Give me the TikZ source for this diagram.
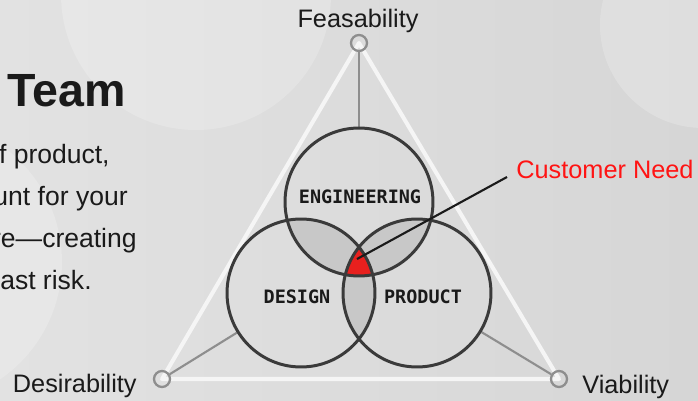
\documentclass[tikz,border=0pt]{standalone}
\usepackage{fontspec}
\setmainfont{Liberation Sans}
\newfontfamily\vennfont{DejaVu Sans Mono}
\usetikzlibrary{positioning,calc,backgrounds}
\definecolor{bgleft}{HTML}{E2E2E2}
\definecolor{bgright}{HTML}{D6D6D6}
\definecolor{ring}{HTML}{3A3A3A}
\definecolor{lens}{HTML}{C8C8C8}
\definecolor{core}{HTML}{E8201E}
\definecolor{needred}{HTML}{FF1414}
\definecolor{spoke}{HTML}{8E8E8E}
\definecolor{rimwhite}{HTML}{F5F5F5}
\definecolor{ink}{HTML}{1A1A1A}
\tikzset{
venn/.style={
    circle,
    draw=ring,
    line width=1.7pt,
    minimum size=2.96cm,
    inner sep=0pt
},
vennlabel/.style={
    inner sep=0pt,
    text=ink,
    font=\vennfont\bfseries\fontsize{10.5}{12}\selectfont
},
corner/.style={
    circle,
    draw=spoke,
    line width=1.3pt,
    minimum size=0.32cm,
    inner sep=0pt
},
cornerlabel/.style={
    inner sep=0pt,
    text=ink,
    font=\fontsize{14.4}{17}\selectfont
},
needlabel/.style={
    cornerlabel,
    text=needred
},
spokeline/.style={
    spoke,line width=1.2pt
},
rim/.style={
    rimwhite,line width=2.3pt,line join=round
},
leader/.style={
    ink,line width=1.2pt
},
blob/.style={
    white,opacity=0.2
},
title/.style={
    inner sep=0pt,
    text=ink,
    font=\fontsize{26.5}{30}\selectfont\bfseries
},
body/.style={
    inner sep=0pt,
    text=ink,
    font=\fontsize{15.1}{18}\selectfont
},
}

\begin{document}
\begin{tikzpicture}[x=0.02cm,y=-0.02cm]

\useasboundingbox (0,0) rectangle (698,400);
%
\node [corner] (feas) at (359,43) {};
\node [corner] (des) at (162,379) {};
\node [corner] (via) at (559,379) {};
\node [cornerlabel,anchor=base] (feaslabel) at (358,27) {Feasability};
\node [cornerlabel,anchor=base east] (deslabel) at (137,392) {Desirability};
\node [cornerlabel,anchor=base west] (vialabel) at (582,393) {Viability};
%
\node [venn] (eng) at (359,202) {};
\node [venn] (dsg) at (301,293) {};
\node [venn] (prd) at (417,293) {};
\node [vennlabel] (englabel) at (360,197) {ENGINEERING};
\node [vennlabel] (dsglabel) at (297,297) {DESIGN};
\node [vennlabel] (prdlabel) at (423,297) {PRODUCT};
%
\coordinate (corept) at (357,259);
\node [needlabel,anchor=base west] (needs) at (516,178) {Customer Need};
\draw [leader] (corept) -- ([xshift=-0.18cm,yshift=0.02cm]needs.base west);
%
\node [title,anchor=base west] (team) at (7,106) {Team};
\node [body,anchor=base east] (line1) at (110,163) {f product,};
\node [body,anchor=base east] (line2) at (128,205) {unt for your};
\node [body,anchor=base east] (line3) at (137,247) {re—creating};
\node [body,anchor=base east] (line4) at (92,289) {ast risk.};
%
\begin{scope}[on background layer]
\clip (0,0) rectangle (698,400);
\shade [left color=bgleft,right color=bgright] (0,0) rectangle (698,400);
\fill [blob] (196,-5) circle [radius=2.7cm];
\fill [blob] (703,25) circle [radius=2.06cm];
\fill [blob] (-80,262) circle [radius=2.84cm];
%
\draw [rim] (feas.center) -- (via.center) -- (des.center) -- cycle;
\draw [spokeline] (feas) -- (eng);
\draw [spokeline] (des) -- (dsg);
\draw [spokeline] (via) -- (prd);
%
\begin{scope}
\clip (eng.center) circle [radius=1.48cm];
\fill [lens] (dsg.center) circle [radius=1.48cm];
\fill [lens] (prd.center) circle [radius=1.48cm];
\end{scope}
\begin{scope}
\clip (dsg.center) circle [radius=1.48cm];
\fill [lens] (prd.center) circle [radius=1.48cm];
\end{scope}
\begin{scope}
\clip (eng.center) circle [radius=1.48cm];
\clip (dsg.center) circle [radius=1.48cm];
\fill [core] (prd.center) circle [radius=1.48cm];
\end{scope}
\end{scope}

\end{tikzpicture}
\end{document}
